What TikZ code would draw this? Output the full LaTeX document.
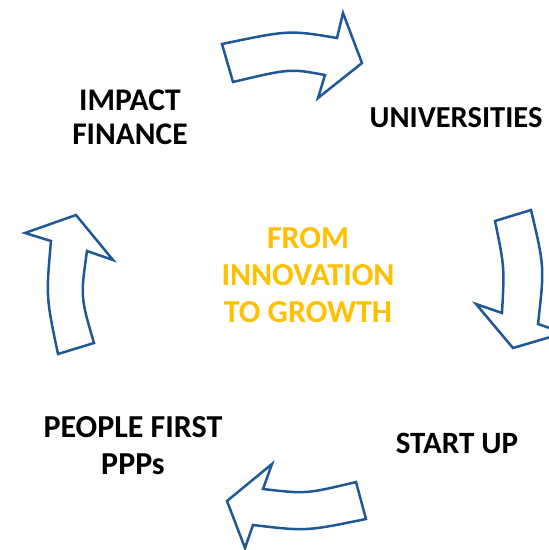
\documentclass[tikz,border=0pt]{standalone}
\usepackage{fontspec}
\setmainfont{Carlito}
\definecolor{arrowblue}{RGB}{31,88,150}
\definecolor{gold}{RGB}{255,192,0}
\tikzset{
  blockarrow/.style={draw=arrowblue, line width=2.5pt, line join=miter, fill=white},
  label/.style={font=\bfseries\fontsize{30.5}{33}\selectfont, align=center, inner sep=0pt},
}
\begin{document}
\begin{tikzpicture}[x=1pt,y=-1pt]
    \useasboundingbox (0,0) rectangle (549,550);
    \clip (0,0) rectangle (549,550);
    % the four curved block arrows, clockwise from the top
    \draw[blockarrow] (222,44) .. controls (289,30) .. (337,38) -- (343,13) -- (362,63)
      -- (318,98) -- (325,75) .. controls (290,68.5) .. (233,82) -- cycle;
    \draw[blockarrow] (495,221) -- (531,210) .. controls (544.5,267) .. (538,324) -- (564,333)
      -- (513,348) -- (476,304) -- (502,313) .. controls (504.5,267) .. cycle;
    \draw[blockarrow] (227,501) -- (272,464) -- (263,489) .. controls (306,494) .. (356,482)
      -- (366,519) .. controls (306,531.3) .. (253,525) -- (245,548) -- cycle;
    \draw[blockarrow] (76,215) -- (113,260) -- (87,251) .. controls (80.5,297) .. (94,343)
      -- (58,354) .. controls (46,297) .. (51,241) -- (25,233) -- cycle;
    % stage names
    \node[label, font=\bfseries\fontsize{31.5}{34}\selectfont] (impact) at (130,117) {IMPACT\\FINANCE};
    \node[label] (univ) at (456,118) {UNIVERSITIES};
    \node[label, font=\bfseries\fontsize{31}{33}\selectfont] (startup) at (457,443) {START UP};
    \node[label, font=\bfseries\fontsize{32}{37}\selectfont] (people) at (133,446) {PEOPLE FIRST\\PPPs};
    \node[label, text=gold, font=\bfseries\fontsize{32}{37}\selectfont] (centre) at (308,275)
      {FROM\\INNOVATION\\TO GROWTH};
  \end{tikzpicture}
\end{document}
